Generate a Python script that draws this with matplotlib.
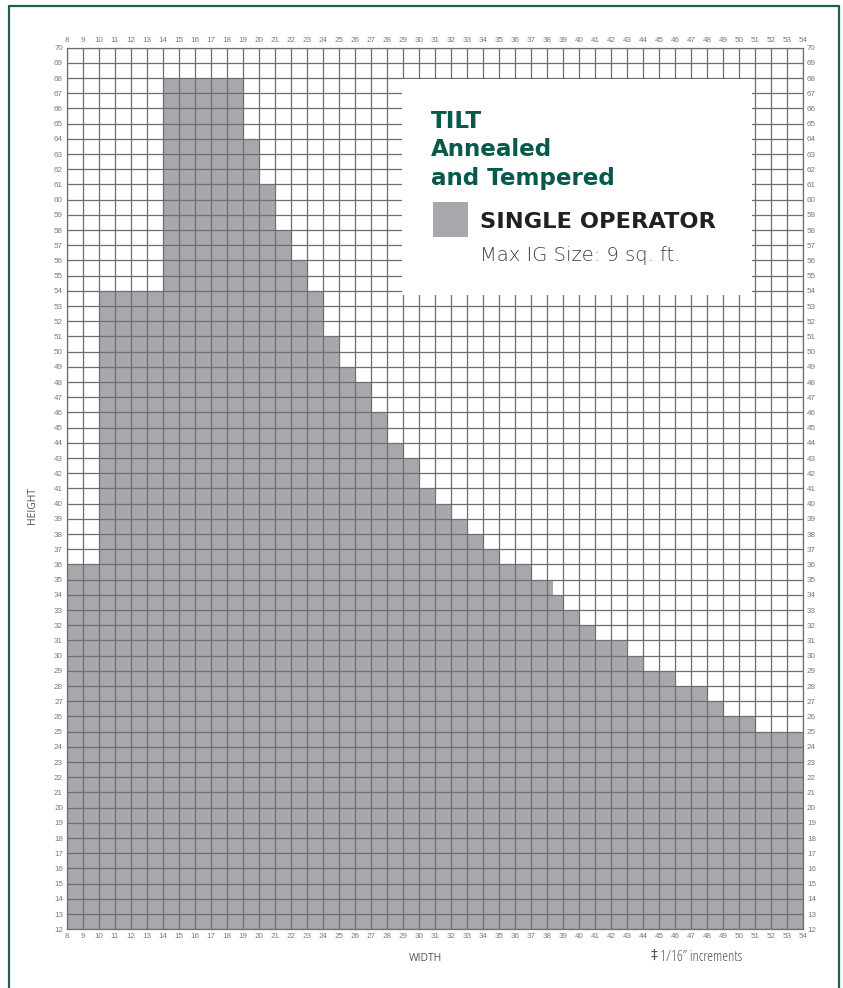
import numpy as np
import matplotlib
matplotlib.use("Agg")
import matplotlib.pyplot as plt
from matplotlib.patches import Rectangle
from matplotlib.lines import Line2D

# chart data: width breakpoints (inches) and max height per step
width_edges = [8, 10, 14, 19, 20, 21, 22, 23, 24, 25, 26, 27, 28, 29, 30,
               31, 32, 33, 34, 35, 37, 38.375, 39, 40, 41, 43, 44, 46, 48,
               49, 51, 54]
max_heights = [36, 54, 68, 64, 61, 58, 56, 54, 51, 49, 48, 46, 44, 43,
               41, 40, 39, 38, 37, 36, 35, 34, 33, 32, 31, 30, 29, 28,
               27, 26, 25]
width_ticks = list(range(8, 55))
height_ticks = list(range(12, 71))

title_lines = ["TILT", "Annealed", "and Tempered"]
legend_label = "SINGLE OPERATOR"
legend_note = "Max IG Size: 9 sq. ft."

W, H = 843, 988
fill_col = "#a7a8ab"
grid_col = "#6d6e70"
green = "#07594b"


def fx(px):
    return px / W


def fy(py):
    return 1 - py / H


fig = plt.figure(figsize=(W / 100, H / 100), dpi=100)
fig.patch.set_facecolor("white")

left, right, top, bottom = 67, 803, 47.7, 929.3
ax = fig.add_axes([fx(left), fy(bottom), (right - left) / W, (bottom - top) / H])

ax.stairs(max_heights, width_edges, baseline=12, fill=True, color=fill_col,
          lw=0, zorder=1)

ax.set_xlim(8, 54)
ax.set_ylim(12, 70)
ax.set_xticks(width_ticks)
ax.set_yticks(height_ticks)
ax.grid(True, color=grid_col, lw=0.9)
ax.set_axisbelow(False)
for sp in ax.spines.values():
    sp.set_color(grid_col)
    sp.set_linewidth(0.9)

ax.tick_params(axis="both", length=0, pad=2.9, labelsize=5.8,
               labelcolor="#7a7a7a", top=True, labeltop=True,
               right=True, labelright=True)
for lab in ax.get_xticklabels() + ax.get_yticklabels():
    lab.set_family("Liberation Sans")

# white legend panel covering the grid
ax.add_patch(Rectangle((28.94, 53.73), 50.81 - 28.94, 67.94 - 53.73,
                       facecolor="white", edgecolor="none", zorder=3))

# title text
for i, line in enumerate(title_lines):
    fig.text(fx(431), fy(128 + i * 28.5), line, fontsize=16.6,
             fontweight="bold", color=green, family="DejaVu Sans",
             va="baseline", ha="left")

fig.patches.append(Rectangle((fx(433), fy(236.7)), (468 - 433) / W,
                             (236.7 - 202) / H, transform=fig.transFigure,
                             facecolor=fill_col, edgecolor="none"))
fig.text(fx(480), fy(228.3), legend_label, fontsize=16.2, fontweight="bold",
         color="#231f20", family="DejaVu Sans", va="baseline", ha="left")
fig.text(fx(480), fy(261), legend_note, fontsize=14, fontweight="light",
         color="#3f3f41", family="DejaVu Sans", va="baseline", ha="left")

# axis names
fig.text(fx(33), fy(505), "HEIGHT", rotation=90, fontsize=7.5,
         color="#555555", family="Open Sans", ha="center", va="center")
fig.text(fx(425), fy(958), "WIDTH", fontsize=7.5, color="#555555",
         family="Open Sans", ha="center", va="center")
fig.text(fx(654), fy(955), "\u2021", fontsize=10, color="#555555",
         family="DejaVu Sans", ha="center", va="center")
fig.text(fx(660), fy(961), "1/16\u201d increments", fontsize=10.6,
         color="#555555", family="Open Sans", fontstretch="condensed",
         ha="left", va="baseline")

# green frame (open at the bottom)
frame = Line2D([fx(9), fx(9), fx(838.5), fx(838.5)],
               [fy(1000), fy(6), fy(6), fy(1000)],
               transform=fig.transFigure, color="#1d5f55", lw=1.6)
fig.lines.append(frame)

fig.savefig("out.png", dpi=100, facecolor="white")
